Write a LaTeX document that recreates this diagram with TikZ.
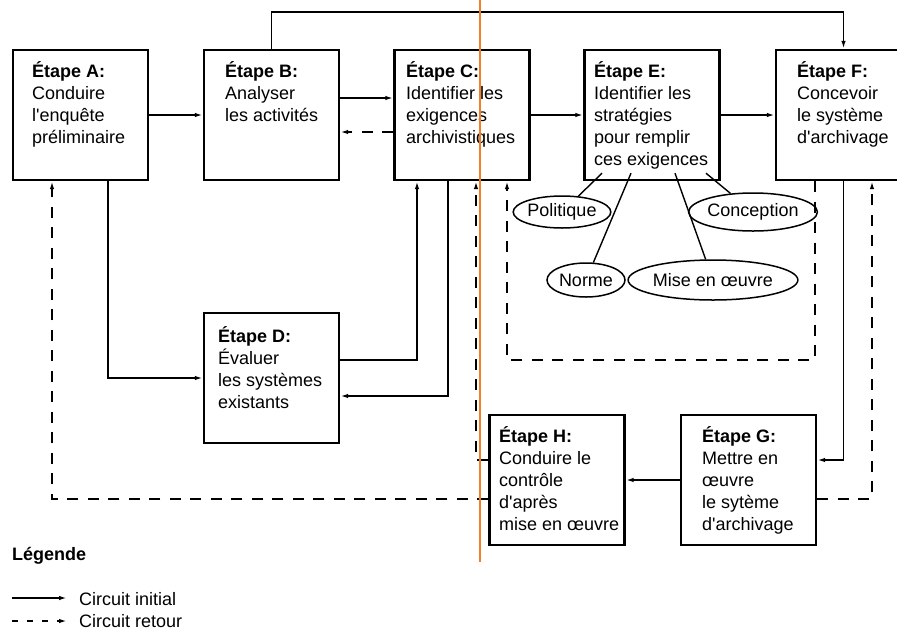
\documentclass[tikz,border=0pt]{standalone}
\usepackage{fontspec}
\setmainfont{Liberation Sans}
\usetikzlibrary{arrows.meta,shapes.geometric}
\definecolor{orangeline}{RGB}{242,125,42}
\newcommand\stxt[1]{\begin{tabular}[t]{@{}l@{}}#1\end{tabular}}
\begin{document}
\begin{tikzpicture}[x=1pt,y=-1pt,
  font=\fontsize{18}{22}\selectfont,
  stepbox/.style={draw,line width=2.4pt,minimum width=135pt,minimum height=130pt,inner sep=0pt},
  txt/.style={anchor=base west,inner sep=0pt},
  conn/.style={line width=1.6pt},
  arr/.style={conn,-{Latex[length=8pt,width=4.5pt]}},
  dsh/.style={dash pattern=on 11pt off 9.5pt},
  oval/.style={ellipse,draw,line width=1.5pt,inner sep=0pt},
  ray/.style={line width=1.4pt},
]
\useasboundingbox (0,0) rectangle (897,630);
\clip (0,0) rectangle (897,630);

% boxes
\node[stepbox] (A) at (80.5,115) {};
\node[stepbox] (B) at (271.5,115) {};
\node[stepbox] (C) at (462,115) {};
\node[stepbox] (E) at (652,115) {};
\node[stepbox] (F) at (843.5,115) {};
\node[stepbox] (D) at (271.5,378) {};
\node[stepbox] (H) at (557,480) {};
\node[stepbox] (G) at (748.5,480) {};

% texts
\node[txt] (At) at (32,77) {\stxt{\textbf{Étape A:}\\Conduire\\l\textquotesingle enquête\\préliminaire}};
\node[txt] (Bt) at (225,77) {\stxt{\textbf{Étape B:}\\Analyser\\les activités}};
\node[txt] (Ct) at (406,77) {\stxt{\textbf{Étape C:}\\Identifier les\\exigences\\archivistiques}};
\node[txt] (Et) at (594,77) {\stxt{\textbf{Étape E:}\\Identifier les\\stratégies\\pour remplir\\ces exigences}};
\node[txt] (Ft) at (797,77) {\stxt{\textbf{Étape F:}\\Concevoir\\le système\\d\textquotesingle archivage}};
\node[txt] (Dt) at (218,342) {\stxt{\textbf{Étape D:}\\Évaluer\\les systèmes\\existants}};
\node[txt] (Ht) at (499,442) {\stxt{\textbf{Étape H:}\\Conduire le\\contrôle\\d\textquotesingle après\\mise en œuvre}};
\node[txt] (Gt) at (702,442) {\stxt{\textbf{Étape G:}\\Mettre en\\œuvre\\le sytème\\d\textquotesingle archivage}};

% ellipses
\node[oval,minimum width=94pt,minimum height=32pt] (pol) at (562,212) {Politique};
\node[oval,minimum width=110pt,minimum height=38pt] (con) at (753,212) {Conception};
\node[oval,minimum width=78pt,minimum height=34pt] (nor) at (586,280) {Norme};
\node[oval,minimum width=148pt,minimum height=40pt] (mis) at (713,280) {Mise en œuvre};

\draw[ray] ([xshift=-50pt,yshift=8pt]E.south) -- (pol);
\draw[ray] ([xshift=-21pt,yshift=8pt]E.south) -- (nor);
\draw[ray] ([xshift=23pt,yshift=8pt]E.south) -- (mis);
\draw[ray] ([xshift=54pt,yshift=8pt]E.south) -- (con);

% initial circuit
\coordinate (topy) at (0,12);
\coordinate (loopy) at (0,360);
\draw[arr] (A.east) -- (B.west);
\draw[arr] ([yshift=17pt]B.east) -- ([yshift=17pt]C.west);
\draw[arr] (C.east) -- (E.west);
\draw[arr] (E.east) -- (F.west);
\draw[arr] (B.north) -- (B.north |- topy) -| (F.north);
\draw[arr] ([xshift=27.5pt]A.south) |- (D.west);
\draw[arr] ([yshift=18pt]D.east) -| ([xshift=-45pt]C.south);
\draw[arr] ([xshift=-14pt]C.south) |- ([yshift=-18pt]D.east);
\draw[arr] (F.south) |- ([yshift=20pt]G.east);
\draw[arr] (G.west) -- (H.east);

% return circuit
\draw[arr,dsh] ([yshift=-17pt]C.west) -- ([yshift=-17pt]B.east);
\draw[arr,dsh] ([yshift=20pt]H.west) -| ([xshift=14pt]C.south);
\draw[arr,dsh] ([xshift=-28.5pt]F.south) -- ([xshift=-28.5pt]F.south |- loopy) -| ([xshift=45pt]C.south);
\draw[arr,dsh] ([yshift=-19pt]G.east) -| ([xshift=28.5pt]F.south);
\draw[arr,dsh] ([yshift=-19pt]H.west) -| ([xshift=-28.5pt]A.south);

% legend
\node[txt] (leg) at (12,560) {\textbf{Légende}};
\coordinate (l1s) at (12,598);
\coordinate (l1e) at (67,598);
\coordinate (l2s) at (12,621);
\coordinate (l2e) at (67,621);
\draw[arr] (l1s) -- (l1e);
\draw[arr,dash pattern=on 5.5pt off 9.5pt] (l2s) -- (l2e);
\node[txt] (li) at (79,605) {Circuit initial};
\node[txt] (lr) at (79,627) {Circuit retour};

% orange marker line
\coordinate (o1) at (480,0);
\coordinate (o2) at (480,562);
\draw[orangeline,line width=1.5pt] (o1) -- (o2);
\end{tikzpicture}
\end{document}
